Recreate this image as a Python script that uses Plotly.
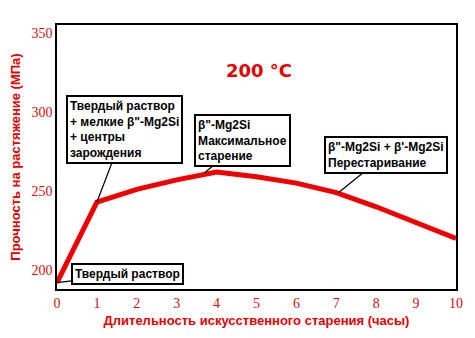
import plotly.graph_objects as go

hours = [0, 1, 2, 3, 4, 5, 6, 7, 8, 9, 10]
strength = [192, 243, 251, 257, 262, 259, 255, 249, 240, 230, 220]

x_ticks = [0, 1, 2, 3, 4, 5, 6, 7, 8, 9, 10]
y_ticks = [200, 250, 300, 350]

notes = [
    {"x": 0, "y": 192, "text": "Твердый раствор", "ax": 70, "ay": -9},
    {"x": 1, "y": 243, "text": "Твердый раствор<br>+ мелкие β\"-Mg2Si<br>+ центры<br>зарождения", "ax": 28, "ay": -73},
    {"x": 3.7, "y": 261.5, "text": "β\"-Mg2Si<br>Максимальное<br>старение", "ax": 38, "ay": -32},
    {"x": 7.06, "y": 249, "text": "β\"-Mg2Si + β'-Mg2Si<br>Перестаривание", "ax": 47, "ay": -38},
]

RED = "#E00000"
TICKRED = "#CC1010"

fig = go.Figure()
fig.add_trace(go.Scatter(x=hours, y=strength, mode="lines",
                         line=dict(color="#EE0000", width=5), showlegend=False,
                         hoverinfo="skip"))

for n in notes:
    fig.add_annotation(x=n["x"], y=n["y"], text="<b>" + n["text"] + "</b>",
                       ax=n["ax"], ay=n["ay"], showarrow=True, arrowhead=0,
                       arrowwidth=1.2, arrowcolor="black", align="left",
                       bordercolor="black", borderwidth=2, borderpad=2,
                       bgcolor="white",
                       font=dict(family="Liberation Sans, Arial", size=12, color="black"))

fig.add_annotation(x=0.506, y=0.876, xref="paper", yref="paper", showarrow=False,
                   text="<b>200 °C</b>",
                   font=dict(family="DejaVu Sans", size=18, color=RED))

fig.update_layout(
    width=475, height=338,
    margin=dict(l=57, r=17, t=25, b=47),
    paper_bgcolor="white", plot_bgcolor="white",
    xaxis=dict(range=[0, 10], tickvals=x_ticks, showgrid=False, zeroline=False,
               showline=True, linecolor="black", linewidth=1.5, mirror=True,
               ticks="", tickfont=dict(family="Liberation Serif", size=14, color=TICKRED),
               title=dict(text="<b>Длительность искусственного старения (часы)</b>",
                          font=dict(family="Liberation Sans, Arial", size=13, color=RED),
                          standoff=6)),
    yaxis=dict(range=[188, 355], tickvals=y_ticks, showgrid=False, zeroline=False,
               showline=True, linecolor="black", linewidth=1.5, mirror=True,
               ticks="", tickfont=dict(family="Liberation Serif", size=14, color=TICKRED),
               title=dict(text="<b>Прочность на растяжение (МПа)</b>",
                          font=dict(family="Liberation Sans, Arial", size=13, color=RED),
                          standoff=8)),
)

fig.write_html("out.html")
